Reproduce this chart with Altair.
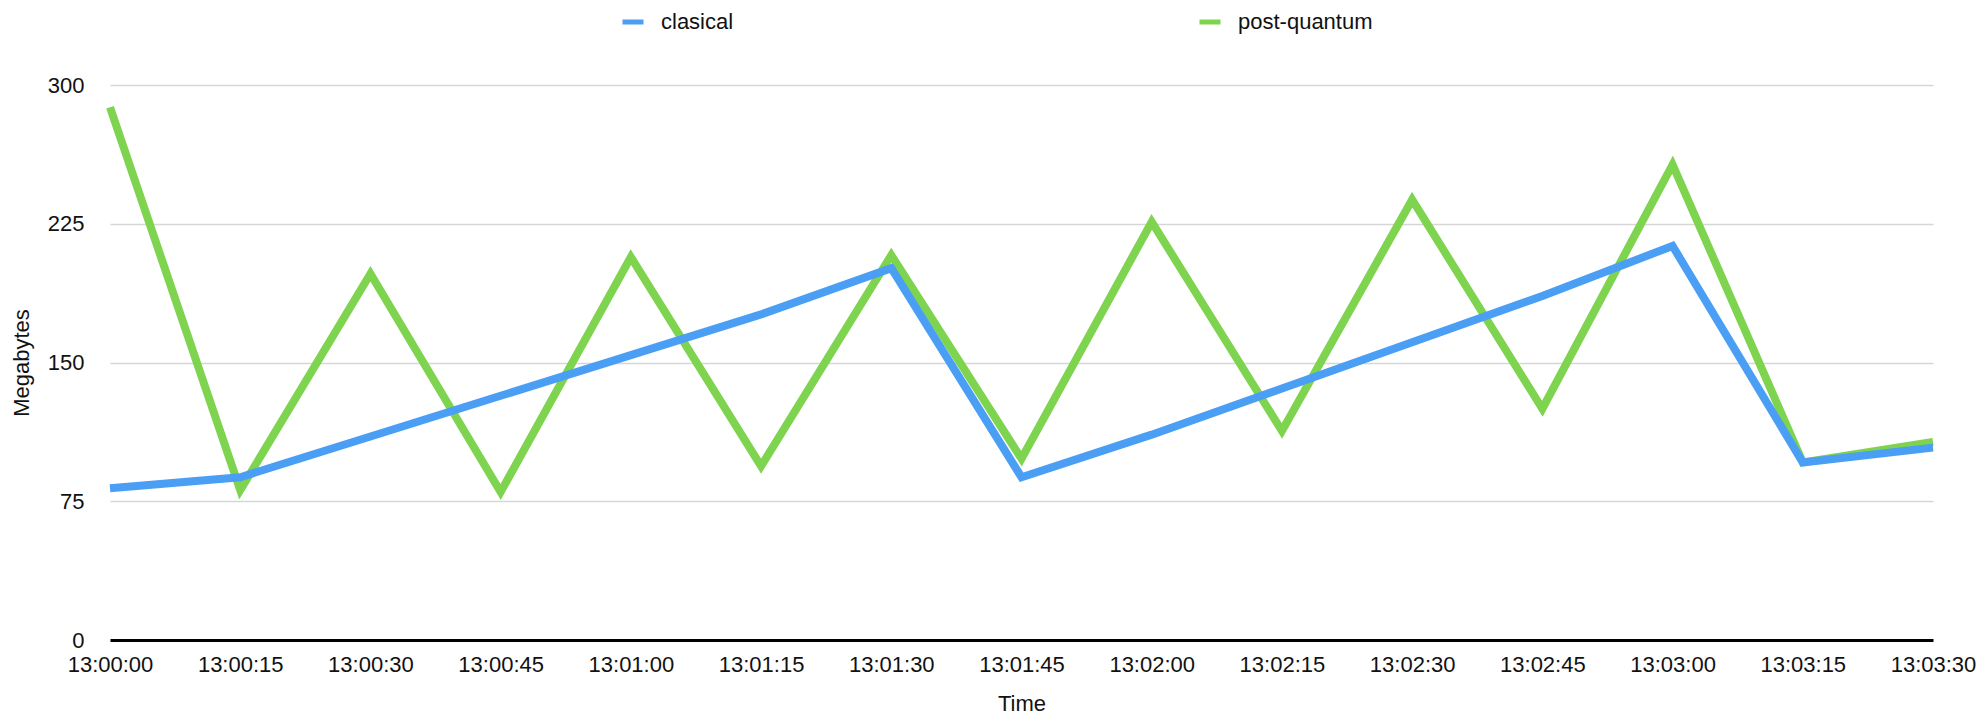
import altair as alt
import pandas as pd

# ---- data ----
times = ["13:00:00", "13:00:15", "13:00:30", "13:00:45", "13:01:00",
         "13:01:15", "13:01:30", "13:01:45", "13:02:00", "13:02:15",
         "13:02:30", "13:02:45", "13:03:00", "13:03:15", "13:03:30"]
clasical = [82, 88, 110, 132, 154, 176, 201, 88, 111, 136, 161, 186, 213, 96, 104]
post_quantum = [288, 81, 198, 80, 207, 94, 208, 98, 226, 113, 238, 125, 257, 96, 107]
series_names = ["clasical", "post-quantum"]
series_colors = ["#4A9FF5", "#7ED34F"]
y_ticks = [0, 75, 150, 225, 300]

rows = []
for t, c, p in zip(times, clasical, post_quantum):
    rows.append({"Time": t, "Megabytes": c, "series": "clasical"})
    rows.append({"Time": t, "Megabytes": p, "series": "post-quantum"})
df = pd.DataFrame(rows)

FONT = "Liberation Sans"
FS = 22

base = alt.Chart(df).encode(
    x=alt.X(
        "Time:O",
        sort=times,
        scale=alt.Scale(type="point", padding=0),
        axis=alt.Axis(
            title="Time", labelAngle=0, ticks=False, grid=False,
            domainColor="#000000", domainWidth=3,
            labelFontSize=FS, labelPadding=14, labelColor="#111111",
            titleFontSize=FS, titleFontWeight="normal", titlePadding=18,
            titleColor="#111111", labelFont=FONT, titleFont=FONT,
        ),
    ),
    y=alt.Y(
        "Megabytes:Q",
        scale=alt.Scale(domain=[0, 300], nice=False),
        axis=alt.Axis(
            title="Megabytes", values=y_ticks, ticks=False, domain=False,
            grid=True, gridColor="#d6d6d6", gridWidth=1.5,
            labelFontSize=FS, labelPadding=26, labelColor="#111111",
            titleFontSize=FS, titleFontWeight="normal", titlePadding=14,
            titleColor="#111111", labelFont=FONT, titleFont=FONT,
        ),
    ),
    color=alt.Color(
        "series:N",
        scale=alt.Scale(domain=series_names, range=series_colors),
        legend=alt.Legend(
            title=None, orient="none", legendX=510, legendY=-76,
            direction="horizontal", columns=2, columnPadding=455,
            symbolType="stroke", symbolSize=441, symbolStrokeWidth=5,
            labelFontSize=FS, labelFont=FONT, labelColor="#111111",
            labelOffset=15,
        ),
    ),
)

green = base.transform_filter(alt.datum.series == "post-quantum").mark_line(
    strokeWidth=8, strokeJoin="miter")
blue = base.transform_filter(alt.datum.series == "clasical").mark_line(
    strokeWidth=8, strokeJoin="miter")

chart = (
    alt.layer(green, blue)
    .properties(
        width=1823, height=555,
        autosize=alt.AutoSizeParams(type="none"),
        padding={"left": 102, "top": 77, "right": 43, "bottom": 80},
        background="#ffffff",
    )
    .configure_view(stroke=None)
)

chart.save("out.html", embed_options={"renderer": "svg", "actions": False})
